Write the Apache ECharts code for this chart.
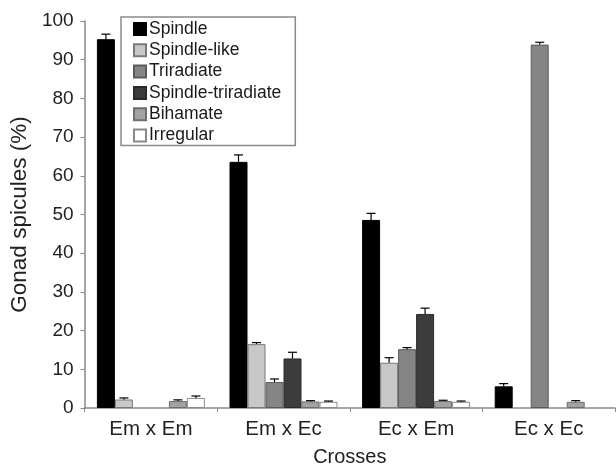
<!DOCTYPE html>
<html>
<head>
<meta charset="utf-8">
<script src="https://cdn.jsdelivr.net/npm/echarts@6/dist/echarts.min.js"></script>
<style>
html,body{margin:0;padding:0;background:#fff;}
#chart{width:616px;height:472px;}
</style>
</head>
<body>
<div id="chart"></div>
<script>
const categories = ['Em x Em', 'Em x Ec', 'Ec x Em', 'Ec x Ec'];
const seriesNames = ['Spindle', 'Spindle-like', 'Triradiate', 'Spindle-triradiate', 'Bihamate', 'Irregular'];
const spindle = [95.3, 63.6, 48.6, 5.6];
const spindleLike = [2.2, 16.5, 11.7, 0];
const triradiate = [0, 6.7, 15.2, 93.9];
const spindleTriradiate = [0, 12.8, 24.3, 0];
const bihamate = [1.8, 1.7, 1.8, 1.6];
const irregular = [2.6, 1.6, 1.6, 0];
const spindleErr = [1.3, 1.8, 1.7, 0.7];
const spindleLikeErr = [0.4, 0.4, 1.3, 0];
const triradiateErr = [0, 0.8, 0.4, 0.6];
const spindleTriradiateErr = [0, 1.6, 1.5, 0];
const bihamateErr = [0.3, 0.2, 0.2, 0.3];
const irregularErr = [0.5, 0.2, 0.2, 0];
const yTicks = [0, 10, 20, 30, 40, 50, 60, 70, 80, 90, 100];

const values = [spindle, spindleLike, triradiate, spindleTriradiate, bihamate, irregular];
const errors = [spindleErr, spindleLikeErr, triradiateErr, spindleTriradiateErr, bihamateErr, irregularErr];
const fills = ['#000000', '#c8c8c8', '#858585', '#3c3c3c', '#a2a2a2', '#ffffff'];
const borders = ['#000000', '#7a7a7a', '#5a5a5a', '#2a2a2a', '#6e6e6e', '#8a8a8a'];
const BAR_W = 18;

const errData = [];
values.forEach((arr, s) => {
  arr.forEach((v, c) => {
    if (errors[s][c] > 0) errData.push([c, s, v, errors[s][c]]);
  });
});

const FONT = 'Liberation Sans, Arial, sans-serif';

const series = seriesNames.map((name, i) => ({
  name: name,
  type: 'bar',
  barWidth: BAR_W,
  barGap: '0%',
  data: values[i].map(v => ({ value: v, itemStyle: { borderWidth: v === 0 ? 0 : 1 } })),
  itemStyle: { color: fills[i], borderColor: borders[i], borderWidth: 1 },
  emphasis: { disabled: true },
  animation: false
}));

series.push({
  type: 'custom',
  name: 'err',
  data: errData,
  z: 5,
  animation: false,
  renderItem: function (params, api) {
    const c = api.value(0), s = api.value(1), v = api.value(2), e = api.value(3);
    const p0 = api.coord([c, v]);
    const p1 = api.coord([c, v + e]);
    const x = p0[0] + (s - 2.5) * BAR_W;
    return {
      type: 'group',
      children: [
        { type: 'line', shape: { x1: x, y1: p0[1], x2: x, y2: p1[1] }, style: { stroke: '#000', lineWidth: 1.2 } },
        { type: 'line', shape: { x1: x - 4.5, y1: p1[1], x2: x + 4.5, y2: p1[1] }, style: { stroke: '#000', lineWidth: 1.2 } }
      ]
    };
  }
});

const chart = echarts.init(document.getElementById('chart'), null, { renderer: 'canvas' });
chart.setOption({
  animation: false,
  backgroundColor: '#ffffff',
  grid: { left: 77, right: 1, top: 21, bottom: 60, containLabel: false },
  legend: {
    data: seriesNames,
    orient: 'vertical',
    left: 121,
    top: 17,
    itemWidth: 12,
    itemHeight: 12,
    itemGap: 1.3,
    icon: 'rect',
    padding: [2, 14, 0, 12],
    borderColor: '#8a8a8a',
    borderWidth: 1.5,
    textStyle: { fontFamily: FONT, fontSize: 17.5, color: '#1a1a1a', lineHeight: 20, padding: [0, 0, 0, -2] },
    selectedMode: false
  },
  xAxis: {
    type: 'category',
    data: categories,
    name: 'Crosses',
    nameLocation: 'middle',
    nameGap: 39,
    nameTextStyle: { fontFamily: FONT, fontSize: 20, color: '#222' },
    axisLine: { lineStyle: { color: '#8a8a8a', width: 1.5 } },
    axisTick: { show: true, length: 4, lineStyle: { color: '#8a8a8a' } },
    axisLabel: { fontFamily: FONT, fontSize: 20.5, color: '#222', margin: 11 }
  },
  yAxis: {
    type: 'value',
    min: 0,
    max: 100,
    interval: 10,
    name: 'Gonad spicules (%)',
    nameLocation: 'middle',
    nameGap: 43,
    nameTextStyle: { fontFamily: FONT, fontSize: 22.5, color: '#222' },
    splitLine: { show: false },
    axisLine: { show: true, lineStyle: { color: '#8a8a8a', width: 1.5 } },
    axisTick: { show: true, length: 4, lineStyle: { color: '#8a8a8a' } },
    axisLabel: {
      fontFamily: FONT, fontSize: 19, color: '#222', margin: 11,
      formatter: function (v) { return yTicks.indexOf(v) >= 0 ? String(v) : ''; }
    }
  },
  series: series
});
</script>
</body>
</html>
